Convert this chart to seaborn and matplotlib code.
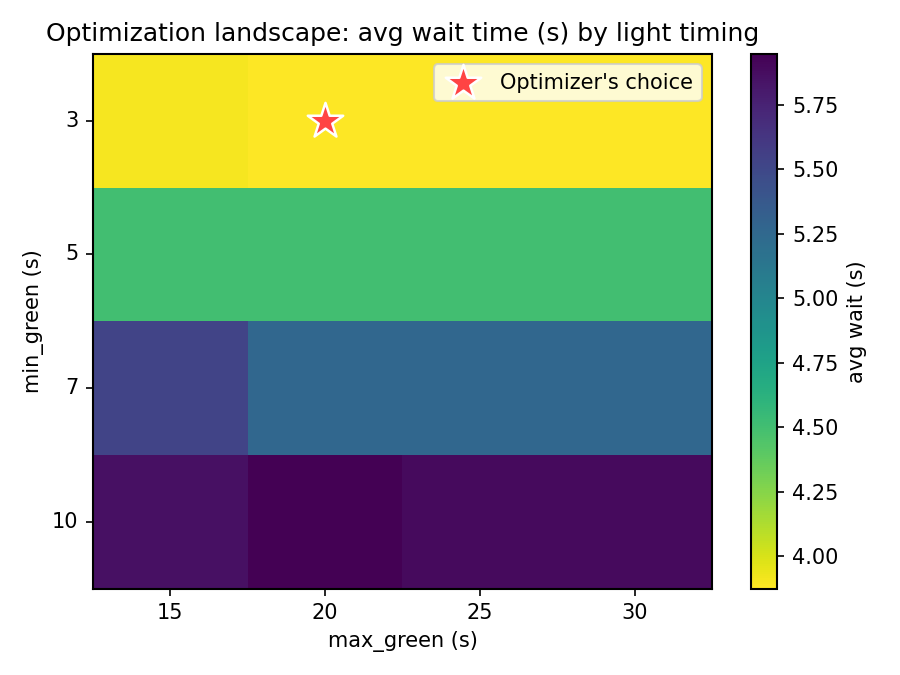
import numpy as np
import pandas as pd
import matplotlib
matplotlib.use("Agg")
import matplotlib.pyplot as plt
import seaborn as sns

min_green = [3, 5, 7, 10]
max_green = [15, 20, 25, 30]
row_3 = [3.905, 3.875, 3.875, 3.875]
row_5 = [4.50, 4.50, 4.50, 4.50]
row_7 = [5.53, 5.26, 5.26, 5.26]
row_10 = [5.86, 5.946, 5.89, 5.89]
best_min, best_max = 3, 20

df = pd.DataFrame([row_3, row_5, row_7, row_10], index=min_green, columns=max_green)

fig, ax = plt.subplots(figsize=(6, 4.5), dpi=150)
sns.heatmap(df, cmap="viridis_r", ax=ax, cbar_kws={"label": "avg wait (s)"})
for sp in ax.spines.values():
    sp.set_visible(True)
    sp.set_linewidth(1.0)
cbar = ax.collections[0].colorbar
cbar.outline.set_linewidth(1.0)
cbar.outline.set_edgecolor("black")

bx = max_green.index(best_max) + 0.5
by = min_green.index(best_min) + 0.5
ax.scatter([bx], [by], marker="*", s=320, color="#ff4444", edgecolor="white",
           linewidth=1.2, zorder=5, label="Optimizer's choice")
ax.legend(loc="upper right")
ax.set_yticklabels([str(v) for v in min_green], rotation=0)
ax.set_xticklabels([str(v) for v in max_green], rotation=0)
ax.set_xlabel("max_green (s)")
ax.set_ylabel("min_green (s)")
ax.set_title("Optimization landscape: avg wait time (s) by light timing")
fig.tight_layout()
fig.savefig("out.png", dpi=150)
